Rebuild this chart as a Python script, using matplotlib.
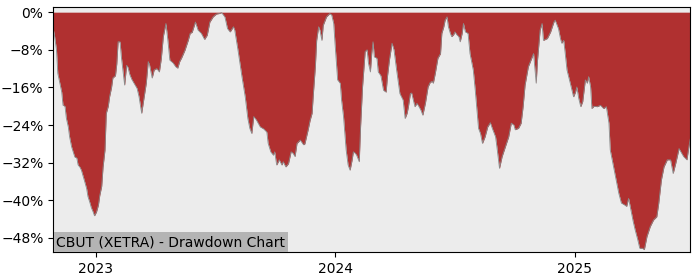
import numpy as np
import pandas as pd
import matplotlib
matplotlib.use('Agg')
import matplotlib.pyplot as plt
import matplotlib.ticker as mtick
import matplotlib.dates as mdates

title = "CBUT (XETRA) - Drawdown Chart"

# drawdown in percent
dates = [
    "2022-10-28", "2022-10-30", "2022-11-02", "2022-11-04", "2022-11-07", "2022-11-10",
    "2022-11-12", "2022-11-15", "2022-11-17", "2022-11-20", "2022-11-22", "2022-11-25",
    "2022-11-27", "2022-11-30", "2022-12-03", "2022-12-05", "2022-12-08", "2022-12-10",
    "2022-12-13", "2022-12-15", "2022-12-18", "2022-12-20", "2022-12-23", "2022-12-25",
    "2022-12-28", "2022-12-30", "2023-01-02", "2023-01-05", "2023-01-07", "2023-01-10",
    "2023-01-12", "2023-01-15", "2023-01-17", "2023-01-20", "2023-01-22", "2023-01-25",
    "2023-01-27", "2023-01-31", "2023-02-02", "2023-02-04", "2023-02-07", "2023-02-09",
    "2023-02-12", "2023-02-14", "2023-02-17", "2023-02-19", "2023-02-22", "2023-02-25",
    "2023-03-02", "2023-03-05", "2023-03-08", "2023-03-12", "2023-03-15", "2023-03-19",
    "2023-03-22", "2023-03-24", "2023-03-28", "2023-03-31", "2023-04-04", "2023-04-08",
    "2023-04-11", "2023-04-14", "2023-04-18", "2023-04-21", "2023-04-24", "2023-04-29",
    "2023-05-03", "2023-05-06", "2023-05-09", "2023-05-12", "2023-05-17", "2023-05-22",
    "2023-05-25", "2023-05-28", "2023-06-02", "2023-06-06", "2023-06-11", "2023-06-16",
    "2023-06-20", "2023-06-24", "2023-06-29", "2023-07-04", "2023-07-08", "2023-07-12",
    "2023-07-17", "2023-07-21", "2023-07-25", "2023-07-30", "2023-08-01", "2023-08-06",
    "2023-08-12", "2023-08-17", "2023-08-21", "2023-08-24", "2023-08-27", "2023-08-30",
    "2023-09-03", "2023-09-09", "2023-09-14", "2023-09-19", "2023-09-21", "2023-09-25",
    "2023-09-29", "2023-10-01", "2023-10-04", "2023-10-08", "2023-10-12", "2023-10-14",
    "2023-10-18", "2023-10-22", "2023-10-26", "2023-10-29", "2023-11-01", "2023-11-04",
    "2023-11-09", "2023-11-14", "2023-11-16", "2023-11-21", "2023-11-24", "2023-11-27",
    "2023-11-29", "2023-12-02", "2023-12-04", "2023-12-07", "2023-12-09", "2023-12-12",
    "2023-12-14", "2023-12-19", "2023-12-24", "2023-12-27", "2023-12-30", "2024-01-01",
    "2024-01-05", "2024-01-09", "2024-01-11", "2024-01-14", "2024-01-18", "2024-01-21",
    "2024-01-24", "2024-01-27", "2024-01-29", "2024-02-01", "2024-02-03", "2024-02-07",
    "2024-02-09", "2024-02-12", "2024-02-16", "2024-02-19", "2024-02-21", "2024-02-24",
    "2024-02-26", "2024-02-28", "2024-03-01", "2024-03-05", "2024-03-07", "2024-03-11",
    "2024-03-15", "2024-03-19", "2024-03-21", "2024-03-24", "2024-03-28", "2024-03-31",
    "2024-04-04", "2024-04-09", "2024-04-14", "2024-04-17", "2024-04-20", "2024-04-22",
    "2024-04-25", "2024-04-27", "2024-04-30", "2024-05-02", "2024-05-05", "2024-05-07",
    "2024-05-11", "2024-05-14", "2024-05-18", "2024-05-22", "2024-05-25", "2024-05-28",
    "2024-05-30", "2024-06-02", "2024-06-06", "2024-06-10", "2024-06-12", "2024-06-15",
    "2024-06-17", "2024-06-20", "2024-06-22", "2024-06-25", "2024-06-27", "2024-06-30",
    "2024-07-02", "2024-07-05", "2024-07-08", "2024-07-10", "2024-07-13", "2024-07-15",
    "2024-07-18", "2024-07-22", "2024-07-25", "2024-07-30", "2024-08-02", "2024-08-05",
    "2024-08-07", "2024-08-10", "2024-08-13", "2024-08-17", "2024-08-21", "2024-08-25",
    "2024-08-28", "2024-09-02", "2024-09-04", "2024-09-08", "2024-09-12", "2024-09-17",
    "2024-09-22", "2024-09-26", "2024-09-30", "2024-10-02", "2024-10-07", "2024-10-11",
    "2024-10-14", "2024-10-17", "2024-10-22", "2024-10-28", "2024-10-30", "2024-11-03",
    "2024-11-05", "2024-11-09", "2024-11-12", "2024-11-14", "2024-11-20", "2024-11-25",
    "2024-11-30", "2024-12-02", "2024-12-05", "2024-12-07", "2024-12-10", "2024-12-12",
    "2024-12-15", "2024-12-17", "2024-12-20", "2024-12-25", "2024-12-30", "2025-01-02",
    "2025-01-04", "2025-01-07", "2025-01-10", "2025-01-13", "2025-01-17", "2025-01-20",
    "2025-01-22", "2025-01-25", "2025-01-27", "2025-01-30", "2025-02-04", "2025-02-09",
    "2025-02-14", "2025-02-18", "2025-02-22", "2025-02-24", "2025-02-27", "2025-03-04",
    "2025-03-09", "2025-03-13", "2025-03-17", "2025-03-21", "2025-03-24", "2025-03-27",
    "2025-03-31", "2025-04-03", "2025-04-07", "2025-04-10", "2025-04-14", "2025-04-17",
    "2025-04-21", "2025-04-26", "2025-05-01", "2025-05-06", "2025-05-09", "2025-05-13",
    "2025-05-17", "2025-05-22", "2025-05-27", "2025-05-31", "2025-06-04", "2025-06-09",
    "2025-06-13", "2025-06-16", "2025-06-21", "2025-06-24", "2025-06-26",
]
drawdown = [
    -3.5, -5.0, -8.0, -13.0, -15.0, -17.0,
    -19.8, -20.0, -22.5, -24.4, -26.5, -28.6,
    -29.5, -30.8, -31.0, -32.5, -33.0, -33.6,
    -35.0, -36.0, -37.5, -39.2, -40.5, -41.5,
    -42.5, -43.3, -42.5, -41.0, -39.0, -37.0,
    -33.0, -29.3, -21.5, -20.0, -18.0, -16.0,
    -14.0, -13.5, -11.0, -6.3, -6.3, -9.5,
    -13.0, -15.5, -11.3, -11.7, -13.3, -14.3,
    -15.5, -16.2, -18.0, -21.5, -18.7, -15.1,
    -10.5, -11.2, -14.0, -12.3, -12.0, -12.7,
    -9.8, -5.2, -2.4, -6.0, -10.2, -10.8,
    -11.6, -11.9, -10.5, -9.7, -8.1, -6.0,
    -4.5, -4.3, -2.1, -3.8, -4.5, -5.8,
    -4.9, -2.1, -1.0, -0.4, -0.3, -0.1,
    -1.0, -3.5, -4.2, -3.1, -3.8, -8.1,
    -13.7, -18.0, -22.6, -24.7, -25.8, -22.2,
    -22.9, -24.4, -24.8, -25.5, -27.9, -29.7,
    -30.4, -29.7, -32.5, -31.4, -32.5, -31.8,
    -32.9, -32.2, -29.7, -30.0, -30.7, -27.9,
    -27.2, -28.2, -28.0, -25.0, -23.0, -21.5,
    -17.3, -11.6, -6.0, -3.1, -3.8, -6.0,
    -2.8, -1.0, -0.3, -0.6, -2.4, -6.6,
    -14.4, -15.1, -18.7, -22.2, -29.3, -32.5,
    -33.6, -31.5, -29.7, -30.0, -30.4, -31.8,
    -24.4, -15.9, -8.4, -8.0, -10.8, -12.7,
    -8.8, -6.3, -9.5, -9.8, -12.7, -13.5,
    -16.6, -17.0, -13.7, -10.2, -6.6, -8.0,
    -12.3, -17.3, -18.7, -22.6, -21.5, -20.1,
    -17.3, -17.2, -19.0, -20.1, -19.4, -19.8,
    -20.8, -21.9, -19.3, -15.9, -15.0, -14.7,
    -15.1, -13.0, -9.8, -8.8, -4.5, -3.1,
    -1.7, -1.0, -3.1, -4.5, -5.2, -4.8,
    -4.2, -4.8, -5.2, -6.3, -4.5, -2.4,
    -4.2, -4.5, -8.8, -12.3, -16.6, -21.5,
    -24.7, -25.8, -27.9, -26.5, -24.4, -23.5,
    -24.7, -26.5, -28.6, -33.2, -30.7, -28.6,
    -26.5, -23.6, -24.0, -25.0, -24.7, -23.6,
    -20.1, -15.5, -11.6, -9.5, -8.8, -15.1,
    -10.2, -3.8, -2.4, -6.0, -5.6, -4.2,
    -2.1, -1.7, -2.8, -3.5, -5.6, -6.6,
    -6.0, -8.4, -12.3, -15.1, -18.0, -17.0,
    -15.9, -18.4, -20.1, -19.0, -14.4, -15.1,
    -13.7, -15.9, -20.5, -20.0, -20.1, -19.8,
    -20.5, -20.1, -23.6, -29.3, -31.4, -35.0,
    -38.5, -40.6, -40.9, -41.3, -39.6, -41.7,
    -44.5, -46.3, -48.4, -50.2, -50.2, -50.5,
    -47.7, -45.6, -44.2, -43.5, -40.6, -35.7,
    -32.9, -31.4, -31.4, -34.3, -32.1, -29.0,
    -30.0, -30.7, -31.4, -28.6, -27.0,
]

x = pd.to_datetime(dates)
y = np.array(drawdown)

fig = plt.figure(figsize=(7, 2.8), dpi=100)
ax = fig.add_axes([0.076, 0.1, 0.91, 0.875])
ax.set_facecolor("#ececec")

ax.fill_between(x, y, 0, color="#b03030", linewidth=0)
ax.plot(x, y, color="#8a8a8a", linewidth=0.6)

ax.set_xlim(x[0], x[-1])
ax.set_ylim(-51, 1.1)
ax.set_yticks(np.arange(0, -49, -8))
ax.yaxis.set_major_formatter(mtick.PercentFormatter(decimals=0))
ax.xaxis.set_major_locator(mdates.YearLocator())
ax.xaxis.set_major_formatter(mdates.DateFormatter("%Y"))
ax.tick_params(labelsize=10)

ax.text(0.005, 0.012, title, transform=ax.transAxes, fontsize=10,
        ha="left", va="bottom",
        bbox=dict(facecolor="#b4b4b4", edgecolor="none", pad=2))

plt.savefig("out.png", dpi=100)
plt.close()
